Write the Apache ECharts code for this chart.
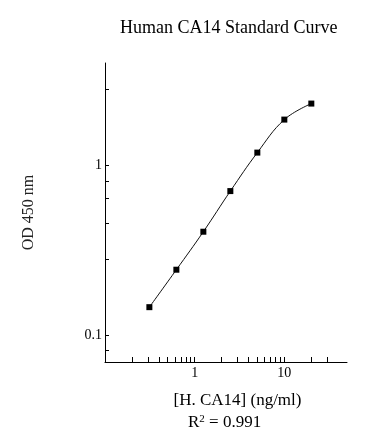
<!DOCTYPE html>
<html>
<head>
<meta charset="utf-8">
<script src="https://cdn.jsdelivr.net/npm/echarts@6/dist/echarts.min.js"></script>
<style>
html,body{margin:0;padding:0;background:#fff;}
#chart{width:388px;height:444px;}
</style>
</head>
<body>
<div id="chart"></div>
<script>
// Data
var concentrations = [0.3125, 0.625, 1.25, 2.5, 5, 10, 20];
var odValues = [0.147, 0.244, 0.408, 0.707, 1.19, 1.86, 2.31];
var xTickLabels = [1, 10];
var yTickLabels = [0.1, 1];
var xTickMarks = [0.2, 0.3, 0.4, 0.5, 0.6, 0.7, 0.8, 0.9, 1, 2, 3, 4, 5, 6, 7, 8, 9, 10, 20, 30];
var yTickMarks = [0.082, 0.1, 0.28, 0.46, 0.64, 0.81, 1, 2.8];
var titleText = 'Human CA14 Standard Curve';
var xName = '[H. CA14] (ng/ml)';
var yName = 'OD 450 nm';
var r2Text = '0.991';

var serif = '"Liberation Serif", "Times New Roman", serif';
var chart = echarts.init(document.getElementById('chart'), null, {renderer: 'canvas'});
var pts = concentrations.map(function (c, i) { return [c, odValues[i]]; });

chart.setOption({
  animation: false,
  backgroundColor: '#fff',
  title: {
    text: titleText,
    left: 115,
    top: 14,
    textStyle: {fontFamily: serif, fontSize: 18, fontWeight: 'normal', color: '#000'}
  },
  grid: {left: 105, right: 41, top: 63, bottom: 82, containLabel: false},
  xAxis: {
    type: 'log',
    logBase: 10,
    min: 0.1,
    max: 50,
    name: xName,
    nameLocation: 'middle',
    nameGap: 30,
    nameTextStyle: {fontFamily: serif, fontSize: 17, color: '#000', padding: [0, 0, 0, 23]},
    axisLine: {show: true, lineStyle: {color: '#000', width: 1}},
    axisTick: {show: true, inside: true, length: 5, customValues: xTickMarks, lineStyle: {color: '#000'}},
    axisLabel: {customValues: xTickLabels, fontFamily: serif, fontSize: 14, color: '#000', margin: 4},
    minorTick: {show: false},
    splitLine: {show: false}
  },
  yAxis: {
    type: 'log',
    logBase: 10,
    min: 0.07,
    max: 4,
    name: yName,
    nameLocation: 'middle',
    nameGap: 68,
    nameTextStyle: {fontFamily: serif, fontSize: 16, color: '#222'},
    axisLine: {show: true, lineStyle: {color: '#000', width: 1}},
    axisTick: {show: true, inside: true, length: 4, customValues: yTickMarks, lineStyle: {color: '#000'}},
    axisLabel: {customValues: yTickLabels, fontFamily: serif, fontSize: 14, color: '#000', margin: 3},
    minorTick: {show: false},
    splitLine: {show: false}
  },
  graphic: [{
    type: 'text',
    left: 188,
    top: 414,
    style: {
      text: '{r|R}{s|2}{r| = ' + r2Text + '}',
      rich: {
        r: {fontFamily: serif, fontSize: 17, fill: '#000', verticalAlign: 'bottom'},
        s: {fontFamily: serif, fontSize: 11, fill: '#000', verticalAlign: 'top', padding: [0, 0, 6, 0]}
      }
    }
  }],
  series: [{
    type: 'line',
    data: pts,
    smooth: 0.4,
    symbol: 'rect',
    symbolSize: 6,
    itemStyle: {color: '#000'},
    lineStyle: {color: '#111', width: 1}
  }]
});
</script>
</body>
</html>
